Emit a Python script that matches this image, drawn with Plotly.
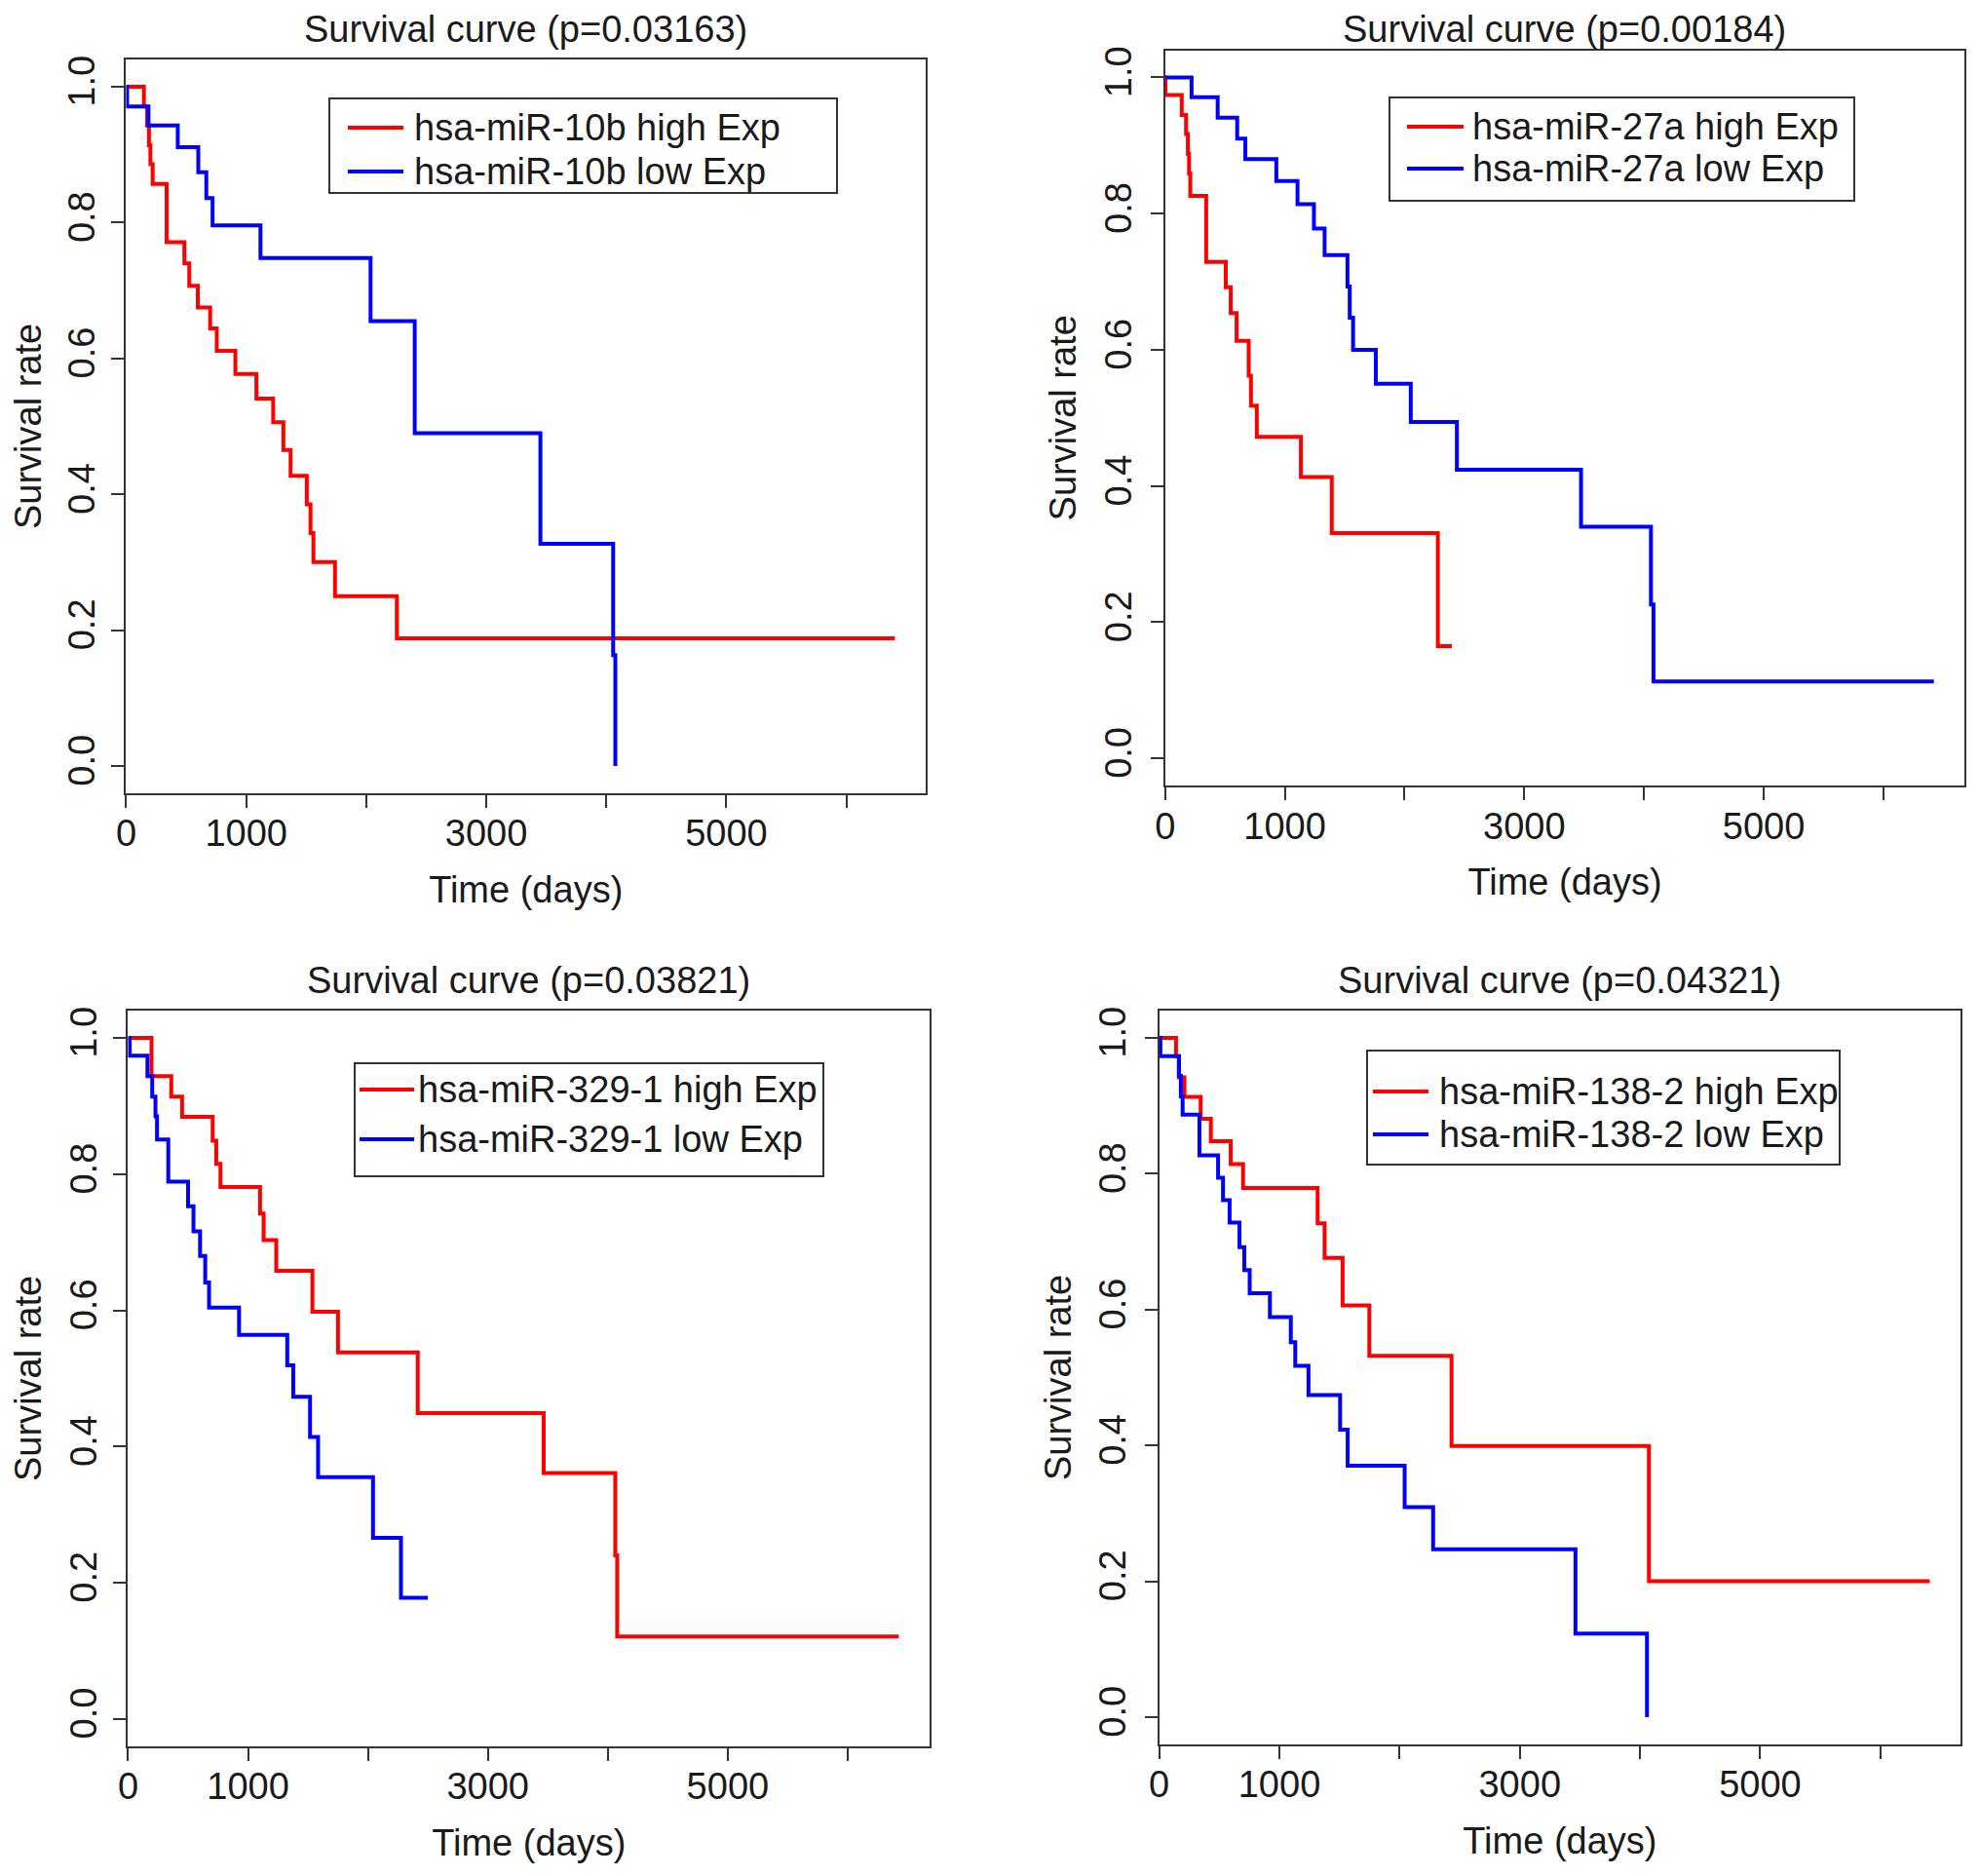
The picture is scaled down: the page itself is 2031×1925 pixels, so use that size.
import plotly.graph_objects as go

# ---------------- data ----------------
titles = ["Survival curve (p=0.03163)", "Survival curve (p=0.00184)",
          "Survival curve (p=0.03821)", "Survival curve (p=0.04321)"]
genes = ["hsa-miR-10b", "hsa-miR-27a", "hsa-miR-329-1", "hsa-miR-138-2"]

x_tick_vals = [0, 1000, 2000, 3000, 4000, 5000, 6000]
x_tick_text = ["0", "1000", "", "3000", "", "5000", ""]
y_tick_vals = [0.0, 0.2, 0.4, 0.6, 0.8, 1.0]
y_tick_text = ["0.0", "0.2", "0.4", "0.6", "0.8", "1.0"]

# panel 1 : hsa-miR-10b
p1_high_t = [0, 148, 175, 190, 202, 221, 337, 485, 526, 597, 700, 755, 910, 1085, 1225, 1310, 1370, 1505, 1536, 1560, 1740, 2255, 6404]
p1_high_s = [1.0, 0.971, 0.943, 0.914, 0.886, 0.857, 0.771, 0.740, 0.707, 0.675, 0.644, 0.611, 0.577, 0.541, 0.506, 0.465, 0.427, 0.385, 0.343, 0.300, 0.250, 0.188, 0.188]
p1_low_t = [0, 8, 186, 430, 601, 668, 720, 1119, 2036, 2404, 3451, 4057, 4075]
p1_low_s = [1.0, 0.971, 0.943, 0.911, 0.874, 0.836, 0.796, 0.748, 0.655, 0.490, 0.327, 0.163, 0.0]

# panel 2 : hsa-miR-27a
p2_high_t = [0, 3, 139, 175, 190, 200, 210, 343, 507, 548, 597, 698, 717, 766, 1134, 1392, 2278, 2395]
p2_high_s = [1.0, 0.974, 0.945, 0.917, 0.888, 0.859, 0.826, 0.729, 0.692, 0.654, 0.613, 0.562, 0.518, 0.472, 0.413, 0.331, 0.165, 0.165]
p2_low_t = [0, 221, 439, 602, 670, 929, 1106, 1243, 1332, 1523, 1542, 1570, 1760, 2052, 2437, 3474, 4058, 4079, 6421]
p2_low_s = [1.0, 0.971, 0.941, 0.910, 0.880, 0.848, 0.814, 0.778, 0.739, 0.693, 0.647, 0.600, 0.550, 0.494, 0.424, 0.340, 0.226, 0.113, 0.113]

# panel 3 : hsa-miR-329-1
p3_high_t = [0, 195, 360, 450, 705, 735, 770, 1100, 1130, 1235, 1537, 1750, 2415, 3465, 4062, 4078, 6426]
p3_high_s = [1.0, 0.944, 0.914, 0.884, 0.849, 0.815, 0.781, 0.742, 0.703, 0.658, 0.598, 0.538, 0.449, 0.361, 0.240, 0.121, 0.121]
p3_low_t = [0, 13, 161, 201, 228, 241, 335, 500, 545, 600, 643, 675, 925, 1327, 1377, 1517, 1584, 2042, 2275, 2499]
p3_low_s = [1.0, 0.974, 0.944, 0.914, 0.885, 0.851, 0.789, 0.753, 0.716, 0.680, 0.641, 0.604, 0.564, 0.519, 0.473, 0.414, 0.355, 0.266, 0.178, 0.178]

# panel 4 : hsa-miR-138-2
p4_high_t = [0, 140, 163, 210, 345, 430, 595, 698, 1318, 1376, 1526, 1748, 2432, 4074, 6411]
p4_high_s = [1.0, 0.973, 0.942, 0.913, 0.881, 0.848, 0.814, 0.779, 0.727, 0.676, 0.606, 0.532, 0.399, 0.200, 0.200]
p4_low_t = [0, 10, 165, 180, 195, 335, 490, 531, 586, 668, 708, 753, 921, 1095, 1132, 1242, 1505, 1568, 2042, 2279, 3463, 4058]
p4_low_s = [1.0, 0.973, 0.944, 0.914, 0.887, 0.827, 0.794, 0.761, 0.728, 0.692, 0.658, 0.624, 0.589, 0.552, 0.517, 0.474, 0.423, 0.370, 0.309, 0.247, 0.123, 0.0]

high_times = [p1_high_t, p2_high_t, p3_high_t, p4_high_t]
high_surv = [p1_high_s, p2_high_s, p3_high_s, p4_high_s]
low_times = [p1_low_t, p2_low_t, p3_low_t, p4_low_t]
low_surv = [p1_low_s, p2_low_s, p3_low_s, p4_low_s]

# ---------------- layout ----------------
W, H = 2031, 1925
FONT = "Liberation Sans, Arial, Helvetica, sans-serif"
FS = 38
AX = "#333333"
TXT = "#1a1a1a"
RED, BLUE = "#FF0000", "#0000FF"
LW = 4

x_domains = [[0.0598, 0.4638], [0.5848, 0.9888], [0.0608, 0.4658], [0.5818, 0.9868]]
y_domains = [[0.5814, 0.9724], [0.5854, 0.9774], [0.0734, 0.4654], [0.0744, 0.4654]]
title_gap = [31, 22, 31, 31]          # px between box top and title centre
ytitle_standoff = [12, 10, 12, 10]
ytick_standoff = [2, 5, 2, 4]

# legend boxes in pixels: (left, right, top, bottom), key line (x0, x1), text x, row y's
legend_box = [(330, 851, 93, 190), (1418, 1895, 92, 198), (356, 837, 1083, 1199), (1395, 1880, 1070, 1187)]
legend_key = [(349, 406), (1436, 1494), (361, 417), (1401, 1458)]
legend_text_x = [415, 1501, 419, 1467]
legend_rows = [(123, 168), (122, 165), (1110, 1161), (1112, 1156)]


def px(x):
    return x / W


def py(y):
    return 1 - y / H


fig = go.Figure()
layout = dict(width=W, height=H, margin=dict(l=0, r=0, t=0, b=0, autoexpand=False),
              paper_bgcolor="white", plot_bgcolor="white", showlegend=False,
              font=dict(family=FONT, size=FS, color=TXT), annotations=[], shapes=[])

for i in range(4):
    n = "" if i == 0 else str(i + 1)
    xr = 1.04 * max(max(high_times[i]), max(low_times[i]))
    fig.add_trace(go.Scatter(x=high_times[i], y=high_surv[i], mode="lines",
                             line=dict(color=RED, width=LW, shape="hv"),
                             name=genes[i] + " high Exp", xaxis="x" + n, yaxis="y" + n))
    fig.add_trace(go.Scatter(x=low_times[i], y=low_surv[i], mode="lines",
                             line=dict(color=BLUE, width=LW, shape="hv"),
                             name=genes[i] + " low Exp", xaxis="x" + n, yaxis="y" + n))
    layout["xaxis" + n] = dict(
        domain=x_domains[i], anchor="y" + n, range=[0, xr], automargin=False,
        tickvals=x_tick_vals, ticktext=x_tick_text,
        ticks="outside", ticklen=13, tickwidth=2, tickcolor=AX,
        showline=True, linewidth=2, linecolor=AX, mirror=True,
        showgrid=False, zeroline=False, ticklabelstandoff=-6,
        tickfont=dict(size=FS, family=FONT, color=TXT),
        title=dict(text="Time (days)", font=dict(size=FS, family=FONT, color=TXT), standoff=24))
    layout["yaxis" + n] = dict(
        domain=y_domains[i], anchor="x" + n, range=[-0.04, 1.04], automargin=False,
        tickvals=y_tick_vals, ticktext=y_tick_text, tickangle=-90,
        ticks="outside", ticklen=13, tickwidth=2, tickcolor=AX,
        showline=True, linewidth=2, linecolor=AX, mirror=True,
        showgrid=False, zeroline=False, ticklabelstandoff=ytick_standoff[i],
        tickfont=dict(size=FS, family=FONT, color=TXT),
        title=dict(text="Survival rate", font=dict(size=FS, family=FONT, color=TXT),
                   standoff=ytitle_standoff[i]))
    # panel title
    xc = (x_domains[i][0] + x_domains[i][1]) / 2
    layout["annotations"].append(dict(
        text=titles[i], xref="paper", yref="paper", x=xc, y=y_domains[i][1],
        xanchor="center", yanchor="middle", yshift=title_gap[i], showarrow=False,
        font=dict(size=FS, family=FONT, color=TXT)))
    # legend (box, key lines, labels)
    l, r, t, b = legend_box[i]
    layout["shapes"].append(dict(type="rect", xref="paper", yref="paper",
                                 x0=px(l), x1=px(r), y0=py(b), y1=py(t),
                                 line=dict(color=AX, width=2), fillcolor="white", layer="above"))
    k0, k1 = legend_key[i]
    for row_y, col, lab in zip(legend_rows[i], [RED, BLUE],
                               [genes[i] + " high Exp", genes[i] + " low Exp"]):
        layout["shapes"].append(dict(type="line", xref="paper", yref="paper",
                                     x0=px(k0), x1=px(k1), y0=py(row_y), y1=py(row_y),
                                     line=dict(color=col, width=LW), layer="above"))
        layout["annotations"].append(dict(
            text=lab, xref="paper", yref="paper", x=px(legend_text_x[i]), y=py(row_y),
            xanchor="left", yanchor="middle", showarrow=False,
            font=dict(size=FS, family=FONT, color=TXT)))

fig.update_layout(**layout)
fig.write_html("out.html")
